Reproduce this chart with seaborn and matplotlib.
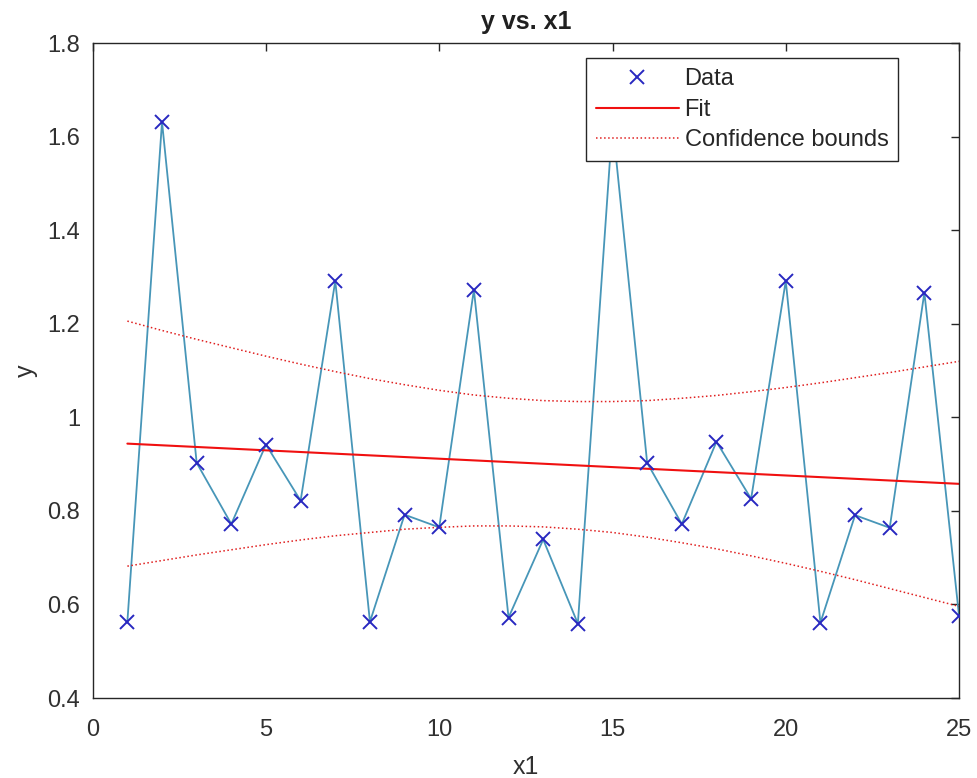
import numpy as np
import pandas as pd
import seaborn as sns
import matplotlib
matplotlib.use("Agg")
import matplotlib.pyplot as plt

# observed data
x1 = list(range(1, 26))
y = [0.563, 1.632, 0.903, 0.772, 0.942, 0.822, 1.292, 0.563, 0.792, 0.765,
     1.273, 0.572, 0.739, 0.559, 1.630, 0.903, 0.772, 0.948, 0.826, 1.292,
     0.561, 0.791, 0.764, 1.267, 0.576]

# linear fit (end points)
fit_x = [1, 25]
fit_y = [0.944, 0.858]

# confidence bounds read at each x1
upper = [1.206, 1.186, 1.167, 1.149, 1.131, 1.114, 1.098, 1.083, 1.070, 1.058,
         1.048, 1.041, 1.036, 1.034, 1.034, 1.036, 1.041, 1.047, 1.055, 1.064,
         1.074, 1.085, 1.096, 1.108, 1.120]
lower = [0.682, 0.694, 0.706, 0.717, 0.728, 0.738, 0.747, 0.754, 0.761, 0.765,
         0.768, 0.768, 0.766, 0.761, 0.754, 0.744, 0.732, 0.719, 0.704, 0.688,
         0.671, 0.653, 0.634, 0.615, 0.596]

df = pd.DataFrame({"x1": x1, "y": y, "upper": upper, "lower": lower})

sns.set_theme(style="white")
plt.rcParams["font.family"] = ["Liberation Sans", "DejaVu Sans"]
plt.rcParams["xtick.direction"] = "in"
plt.rcParams["ytick.direction"] = "in"

fig = plt.figure(figsize=(9.78, 7.78), dpi=100)
ax = fig.add_axes([0.0948, 0.1028, 0.8858, 0.8415])

# connecting line, then the data markers
sns.lineplot(data=df, x="x1", y="y", color="#4796b8", linewidth=1.3, ax=ax)
ax.plot(df["x1"], df["y"], linestyle="none", marker="x", color="#2828c0",
        markersize=10, markeredgewidth=1.4, label="Data", zorder=3)
sns.lineplot(x=fit_x, y=fit_y, color="#f01010", linewidth=1.5, label="Fit", ax=ax)
sns.lineplot(data=df, x="x1", y="upper", color="#e02020", linestyle=":",
             linewidth=1.1, label="Confidence bounds", ax=ax)
sns.lineplot(data=df, x="x1", y="lower", color="#e02020", linestyle=":",
             linewidth=1.1, ax=ax)

ax.set_xlim(0, 25)
ax.set_ylim(0.4, 1.8)
ax.set_xticks([0, 5, 10, 15, 20, 25])
ax.set_yticks([0.4, 0.6, 0.8, 1.0, 1.2, 1.4, 1.6, 1.8])
ax.set_yticklabels(["0.4", "0.6", "0.8", "1", "1.2", "1.4", "1.6", "1.8"])
ax.tick_params(axis="both", which="both", direction="in", length=5.5, width=1,
               color="#262626", labelsize=17, top=True, right=True,
               labelcolor="#303030")
ax.tick_params(axis="x", pad=15)
ax.tick_params(axis="y", pad=9)
for s in ax.spines.values():
    s.set_color("#262626")
    s.set_linewidth(1.0)

ax.set_title("y vs. x1", fontsize=18, fontweight="bold", pad=10, color="#202020")
ax.set_xlabel("x1", fontsize=18, labelpad=10, color="#303030")
ax.set_ylabel("y", fontsize=18, labelpad=7, color="#303030")

leg = ax.legend(loc="upper right", bbox_to_anchor=(0.93, 0.977),
                borderaxespad=0, fontsize=17, handlelength=3.5,
                handletextpad=0.25, labelspacing=0.36, fancybox=False,
                framealpha=1, edgecolor="#262626", borderpad=0.42)
leg.get_frame().set_linewidth(1.0)

fig.savefig("out.png", dpi=100)
